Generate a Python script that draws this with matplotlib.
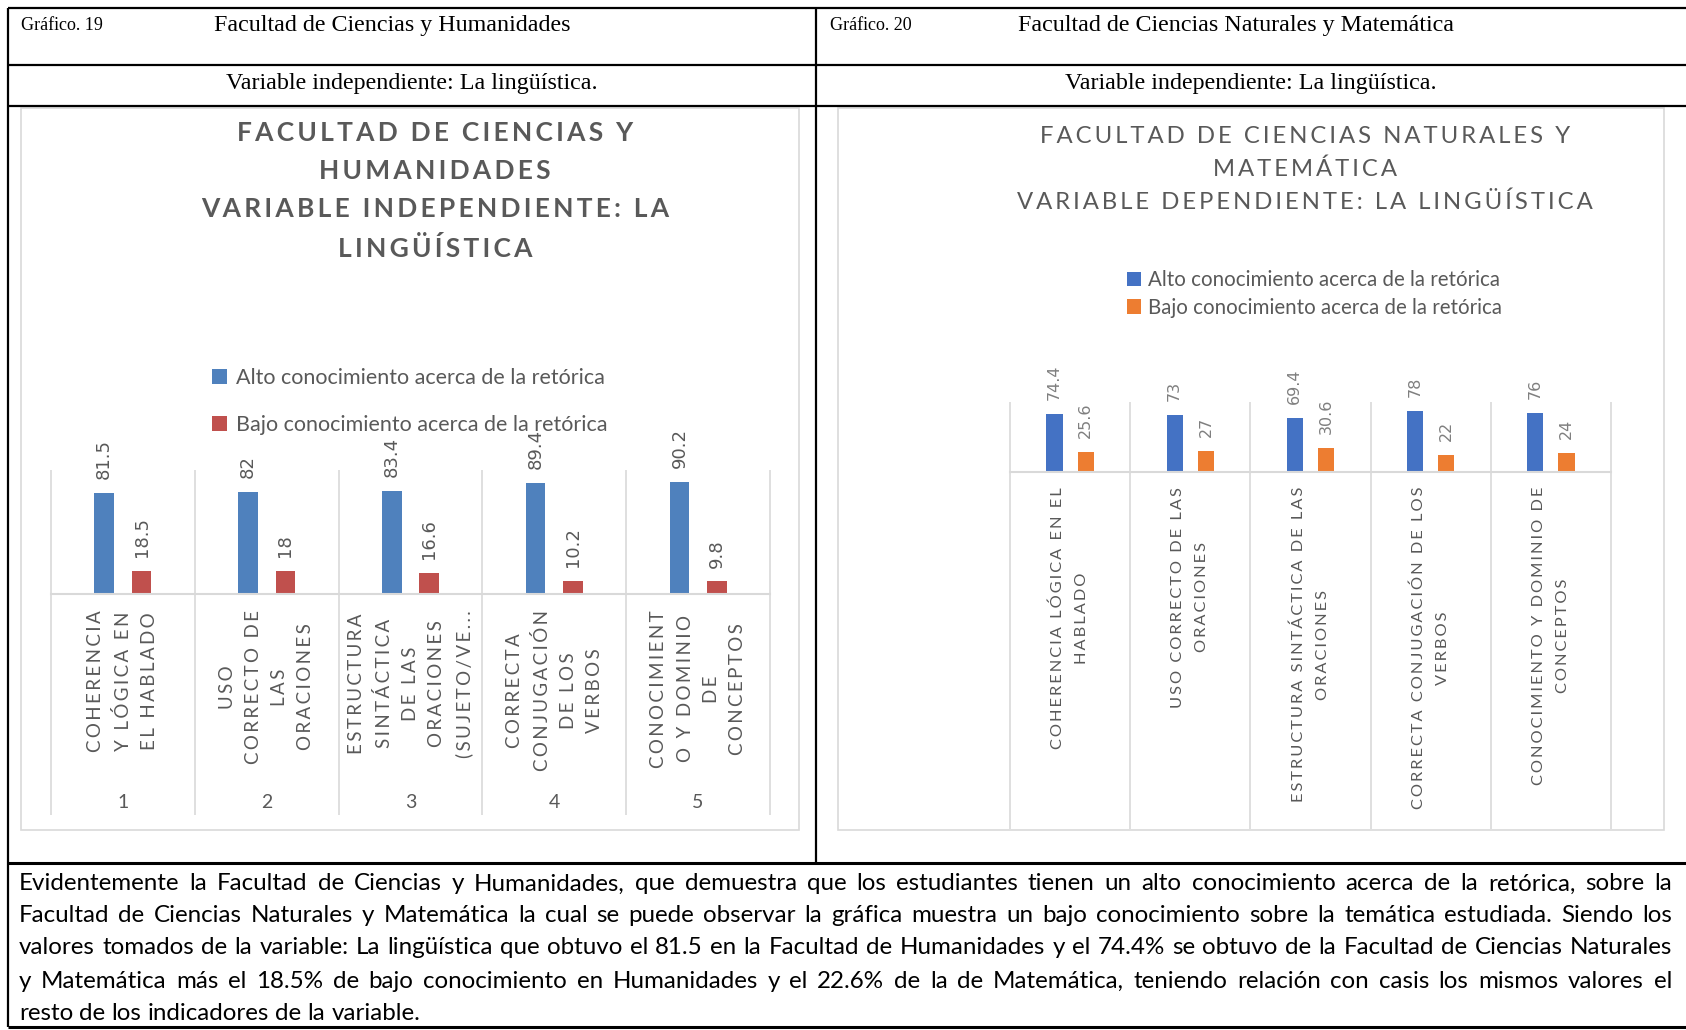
import matplotlib
matplotlib.use("Agg")
import matplotlib.pyplot as plt
from matplotlib.patches import Rectangle
import numpy as np

W, H = 1686, 1030

# ---- data -------------------------------------------------------------
cats_hum = ["COHERENCIA\nY LÓGICA EN\nEL HABLADO",
            "USO\nCORRECTO DE\nLAS\nORACIONES",
            "ESTRUCTURA\nSINTÁCTICA\nDE LAS\nORACIONES\n(SUJETO/VE...",
            "CORRECTA\nCONJUGACIÓN\nDE LOS\nVERBOS",
            "CONOCIMIENT\nO Y DOMINIO\nDE\nCONCEPTOS"]
nums_hum = ["1", "2", "3", "4", "5"]
alto_hum = [81.5, 82, 83.4, 89.4, 90.2]
bajo_hum = [18.5, 18, 16.6, 10.2, 9.8]

cats_nat = ["COHERENCIA LÓGICA EN EL\nHABLADO",
            "USO CORRECTO DE LAS\nORACIONES",
            "ESTRUCTURA SINTÁCTICA DE LAS\nORACIONES",
            "CORRECTA CONJUGACIÓN DE LOS\nVERBOS",
            "CONOCIMIENTO Y DOMINIO DE\nCONCEPTOS"]
alto_nat = [74.4, 73, 69.4, 78, 76]
bajo_nat = [25.6, 27, 30.6, 22, 24]

series_names = ["Alto conocimiento acerca de la retórica",
                "Bajo conocimiento acerca de la retórica"]

title_hum = "FACULTAD DE CIENCIAS Y\nHUMANIDADES\nVARIABLE INDEPENDIENTE: LA\nLINGÜÍSTICA"
title_nat = "FACULTAD DE CIENCIAS NATURALES Y\nMATEMÁTICA\nVARIABLE DEPENDIENTE: LA LINGÜÍSTICA"

paragraph = [
    "Evidentemente la Facultad de Ciencias y Humanidades, que demuestra que los estudiantes tienen un alto conocimiento acerca de la retórica, sobre la",
    "Facultad de Ciencias Naturales y Matemática la cual se puede observar la gráfica muestra un bajo conocimiento sobre la temática estudiada. Siendo los",
    "valores tomados de la variable: La lingüística que obtuvo el 81.5 en la Facultad de Humanidades y el 74.4% se obtuvo de la Facultad de Ciencias Naturales",
    "y Matemática más el 18.5% de bajo conocimiento en Humanidades y el 22.6% de la de Matemática, teniendo relación con casis los mismos valores el",
    "resto de los indicadores de la variable.",
]

SANS = ["Lato", "DejaVu Sans"]
SERIF = ["Liberation Serif", "DejaVu Serif"]
GRID = "#d9d9d9"


def track(s, sp="\u2009"):
    # fake letter spacing (Excel style) with thin spaces
    return "\n".join(sp.join(line) for line in s.split("\n"))


def rect(x0, y0, x1, y1):
    return [x0 / W, 1 - y1 / H, (x1 - x0) / W, (y1 - y0) / H]


fig = plt.figure(figsize=(W / 100, H / 100), dpi=100)
page = fig.add_axes([0, 0, 1, 1])
page.set_xlim(0, W)
page.set_ylim(H, 0)
page.axis("off")

# ---- table lines ------------------------------------------------------
lw = 1.6
page.hlines([7.5, 65, 106], 7.5, W, colors="black", lw=lw)
page.hlines([863, 1027], 7.5, W, colors="black", lw=2.2)
page.vlines(7.5, 7.5, 1027, colors="black", lw=lw)
page.vlines(816, 7.5, 863, colors="black", lw=lw)

# header texts
page.text(21, 25.5, "Gráfico. 19", family=SERIF, fontsize=13, va="center")
page.text(214, 25, "Facultad de Ciencias y Humanidades", family=SERIF, fontsize=17.3, va="center")
page.text(412, 83, "Variable independiente: La lingüística.", family=SERIF, fontsize=17.3,
          va="center", ha="center")
page.text(830, 25.5, "Gráfico. 20", family=SERIF, fontsize=13, va="center")
page.text(1018, 25, "Facultad de Ciencias Naturales y Matemática", family=SERIF, fontsize=17.3,
          va="center")
page.text(1251, 83, "Variable independiente: La lingüística.", family=SERIF, fontsize=17.3,
          va="center", ha="center")

# chart frames
page.add_patch(Rectangle((20.5, 108), 778.5, 722, fill=False, ec=GRID, lw=1.2))
page.add_patch(Rectangle((838, 108), 826, 722, fill=False, ec=GRID, lw=1.2))


def bar_chart(box, cats, alto, bajo, colors, ymax, label_top, sep_bottom,
              cat_size, cat_ls, cat_sp, val_size, val_color):
    ax = fig.add_axes(rect(*box))
    x = np.arange(len(cats))
    b1 = ax.bar(x - 0.13, alto, width=0.135, color=colors[0], label=series_names[0])
    b2 = ax.bar(x + 0.13, bajo, width=0.135, color=colors[1], label=series_names[1])
    for bars, vals in ((b1, alto), (b2, bajo)):
        for r, v in zip(bars, vals):
            ax.annotate(f"{v:g}", (r.get_x() + r.get_width() / 2, v), xytext=(0, 10),
                        textcoords="offset points", rotation=90, ha="center", va="bottom",
                        fontsize=val_size, color=val_color, family=["DejaVu Sans"])
    ax.set_xlim(-0.5, len(cats) - 0.5)
    ax.set_ylim(0, ymax)
    ax.patch.set_alpha(0)
    for s in ("top", "left", "right"):
        ax.spines[s].set_visible(False)
    ax.spines["bottom"].set_color(GRID)
    ax.spines["bottom"].set_linewidth(1.5)
    ax.set_xticks([])
    ax.set_yticks([])
    ax.vlines(np.arange(-0.5, len(cats)), sep_bottom, 1, transform=ax.get_xaxis_transform(),
              colors=GRID, lw=1.2, clip_on=False)
    for i, c in enumerate(cats):
        ax.text(i, label_top, track(c, cat_sp), transform=ax.get_xaxis_transform(),
                rotation=90, ha="center", va="top", multialignment="center",
                fontsize=cat_size, linespacing=cat_ls, color="#595959", family=SANS)
    return ax, (b1, b2)


# ---- left chart -------------------------------------------------------
axL, hL = bar_chart((51, 470, 770, 593.6), cats_hum, alto_hum, bajo_hum,
                    ("#4F81BD", "#C0504D"), 100, (593.6 - 610) / 123.6,
                    (593.6 - 815) / 123.6, 13.5, 1.65, "\u2009", 13, "#595959")
for i, n in enumerate(nums_hum):
    axL.text(i, (593.6 - 802) / 123.6, n, transform=axL.get_xaxis_transform(),
             ha="center", va="center", fontsize=14, color="#595959", family=SANS)
page.text(435, 191, track(title_hum, "\u2009"), ha="center", va="center", fontsize=19,
          fontweight="bold", color="#595959", linespacing=1.7, family=SANS)
fig.legend(hL, series_names, loc="center left", bbox_to_anchor=(212 / W, 1 - 401.5 / H),
           frameon=False, handlelength=0.7, handleheight=0.7,
           handletextpad=0.4, labelspacing=1.25, borderpad=0, borderaxespad=0,
           labelcolor="#595959", prop={"family": SANS, "size": 15.5})

# ---- right chart ------------------------------------------------------
axR, hR = bar_chart((1010, 401.7, 1611, 471.7), cats_nat, alto_nat, bajo_nat,
                    ("#4472C4", "#ED7D31"), 90, (471.7 - 487) / 70,
                    (471.7 - 829) / 70, 11.8, 1.9, "\u2009", 11.5, "#7f7f7f")
page.text(1305, 169.5, track(title_nat, "\u2009"), ha="center", va="center", fontsize=17.2,
          color="#595959", linespacing=1.63, family=SANS)
fig.legend(hR, series_names, loc="center left", bbox_to_anchor=(1127 / W, 1 - 294 / H),
           frameon=False, handlelength=0.7, handleheight=0.7,
           handletextpad=0.3, labelspacing=0.35, borderpad=0, borderaxespad=0,
           labelcolor="#595959", prop={"family": SANS, "size": 14.8})

# ---- justified paragraph ---------------------------------------------
renderer = fig.canvas.get_renderer()
x0, x1 = 19, 1672
ys = [884, 916, 948, 981, 1013]


def line_width(s, size):
    t = page.text(0, 0, s, fontsize=size, family=SANS)
    w = t.get_window_extent(renderer).width
    t.remove()
    return w


# fit the font to the column like the word processor does
widest = max(line_width(l, 10) for l in paragraph[:-1])
psize = 10 * (x1 - x0) / widest * 0.985
pkw = dict(fontsize=psize, family=SANS, va="center", ha="left", color="black")
sp_w = line_width("a a", psize) - line_width("aa", psize)
for k, (line, y) in enumerate(zip(paragraph, ys)):
    words = line.split(" ")
    texts = [page.text(0, y, w, **pkw) for w in words]
    widths = [t.get_window_extent(renderer).width for t in texts]
    if k < len(paragraph) - 1:
        gap = (x1 - x0 - sum(widths)) / (len(words) - 1)
    else:
        gap = sp_w
    cx = x0
    for t, w in zip(texts, widths):
        t.set_x(cx)
        cx += w + gap

fig.savefig("out.png", dpi=100)
